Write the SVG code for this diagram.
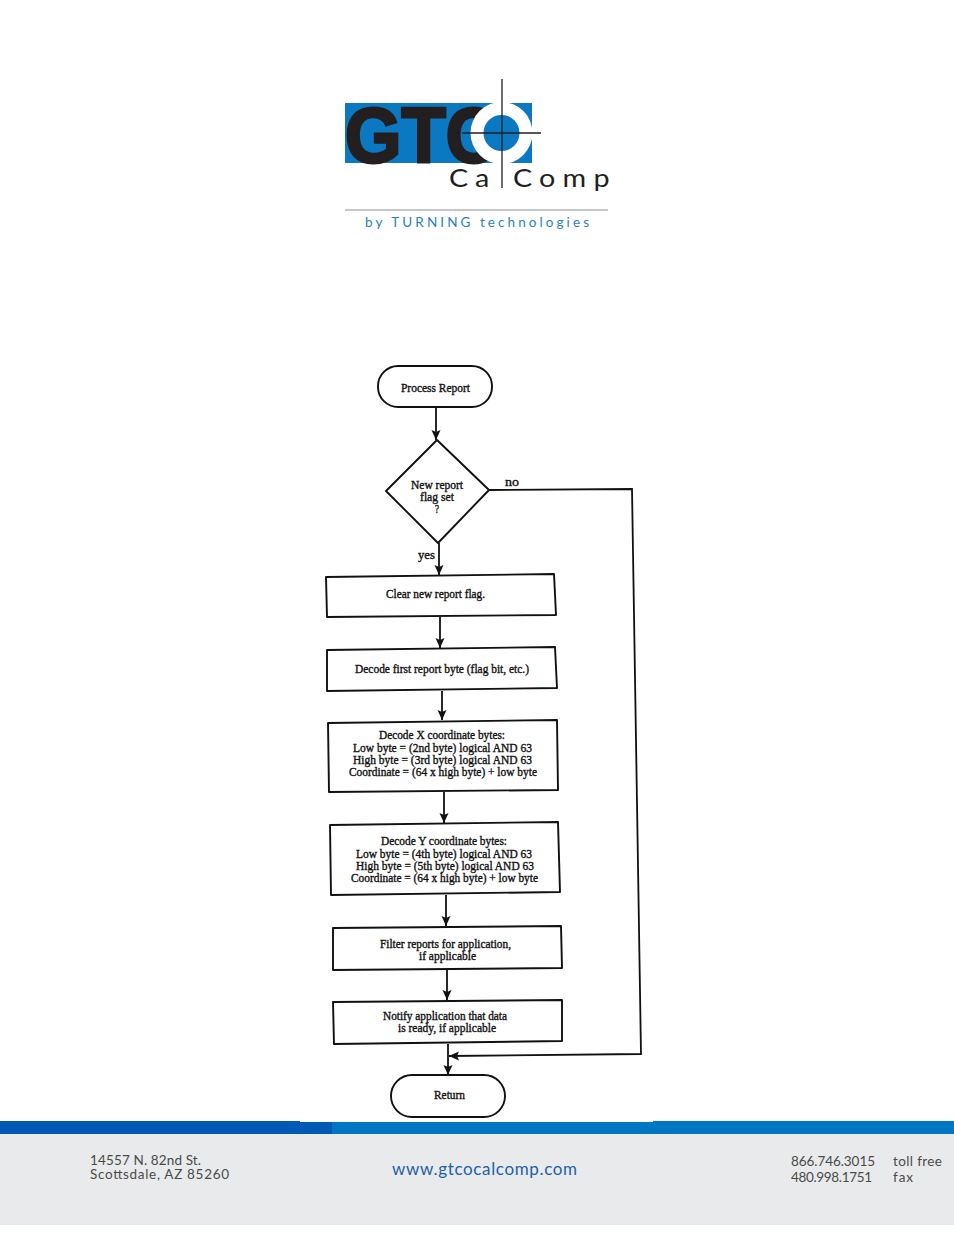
<svg xmlns="http://www.w3.org/2000/svg" width="954" height="1235" viewBox="0 0 954 1235">
<style>
.n{fill:#fff;stroke:#111;stroke-width:1.9;stroke-linejoin:round}
.t{font-family:"Liberation Serif",serif;font-size:11.5px;fill:#111;stroke:#111;stroke-width:.35}
.c{fill:none;stroke:#111;stroke-width:1.8}
.f{font-family:"Lato","Open Sans",sans-serif;font-size:13.5px;fill:#4a4a4a}
</style>
<defs><marker id="a" markerUnits="userSpaceOnUse" markerWidth="12" markerHeight="12" refX="10" refY="6" orient="auto"><path d="M0 1.500L10 6L0 10.500L2 6Z" fill="#111"/></marker></defs>
<rect width="954" height="1235" fill="#fff"/>
<g id="logo">
<rect x="345" y="103" width="187" height="60" fill="#0a79c2"/>
<text x="345" y="161.500" font-family="Liberation Sans,sans-serif" font-weight="700" font-size="78" fill="#231f20" stroke="#231f20" stroke-width="3" textLength="153" lengthAdjust="spacingAndGlyphs">GTC</text>
<circle cx="501.500" cy="133" r="31" fill="#fff"/>
<circle cx="501.500" cy="133" r="18" fill="#0a79c2"/>
<path d="M502 79V188M462 133H541" stroke="#231f20" stroke-width="1.300"/>
<text transform="translate(449 187) scale(1.15 1)" font-family="Lato,sans-serif" font-size="25" fill="#231f20" textLength="35">Ca</text>
<text transform="translate(513 187) scale(1.15 1)" font-family="Lato,sans-serif" font-size="25" fill="#231f20" textLength="84">Comp</text>
<path d="M345 210H608" stroke="#8d9194" stroke-width="1"/>
<text x="365" y="226.500" font-family="Lato,sans-serif" font-size="13.500" fill="#2a7fbd" textLength="224">by TURNING technologies</text>
</g>
<g id="connectors">
<path class="c" marker-end="url(#a)" d="M436 407V440"/>
<path class="c" marker-end="url(#a)" d="M439 543V575"/>
<path class="c" marker-end="url(#a)" d="M440 617V648"/>
<path class="c" marker-end="url(#a)" d="M442 691V720"/>
<path class="c" marker-end="url(#a)" d="M444 792V823"/>
<path class="c" marker-end="url(#a)" d="M446 895V926"/>
<path class="c" marker-end="url(#a)" d="M447 970V1000"/>
<path class="c" marker-end="url(#a)" d="M448 1044V1075"/>
<path class="c" marker-end="url(#a)" d="M489 490L632 489L641 1054L449 1056"/>
<text class="t" x="505" y="486" textLength="14" lengthAdjust="spacingAndGlyphs">no</text>
<text class="t" x="418" y="559" textLength="17" lengthAdjust="spacingAndGlyphs">yes</text>
</g>
<g id="start"><rect class="n" x="378" y="366" width="114" height="41" rx="20" ry="20"/><text class="t" x="401" y="392" textLength="69" lengthAdjust="spacingAndGlyphs">Process Report</text></g>
<g id="decision"><polygon class="n" points="437,440 489,490 438,543 386,491"/>
<text class="t" x="411" y="489" textLength="52" lengthAdjust="spacingAndGlyphs">New report</text>
<text class="t" x="420" y="501" textLength="34" lengthAdjust="spacingAndGlyphs">flag set</text>
<text class="t" x="435" y="513" textLength="4" lengthAdjust="spacingAndGlyphs">?</text></g>
<g id="clear"><polygon class="n" points="326,577 554,574 556,615 327,617"/><text class="t" x="386" y="598" textLength="99" lengthAdjust="spacingAndGlyphs">Clear new report flag.</text></g>
<g id="first"><polygon class="n" points="327,650 555,647 557,688 327,691"/><text class="t" x="355" y="673" textLength="174" lengthAdjust="spacingAndGlyphs">Decode first report byte (flag bit, etc.)</text></g>
<g id="decodex"><polygon class="n" points="328,723 557,720 558,790 329,792"/>
<text class="t" x="379" y="739" textLength="126" lengthAdjust="spacingAndGlyphs">Decode X coordinate bytes:</text>
<text class="t" x="353" y="752" textLength="179" lengthAdjust="spacingAndGlyphs">Low byte = (2nd byte) logical AND 63</text>
<text class="t" x="353" y="764" textLength="179" lengthAdjust="spacingAndGlyphs">High byte = (3rd byte) logical AND 63</text>
<text class="t" x="349" y="776" textLength="188" lengthAdjust="spacingAndGlyphs">Coordinate = (64 x high byte) + low byte</text></g>
<g id="decodey"><polygon class="n" points="330,825 558,822 560,892 331,895"/>
<text class="t" x="381" y="845" textLength="126" lengthAdjust="spacingAndGlyphs">Decode Y coordinate bytes:</text>
<text class="t" x="356" y="858" textLength="176" lengthAdjust="spacingAndGlyphs">Low byte = (4th byte) logical AND 63</text>
<text class="t" x="356" y="870" textLength="178" lengthAdjust="spacingAndGlyphs">High byte = (5th byte) logical AND 63</text>
<text class="t" x="351" y="882" textLength="187" lengthAdjust="spacingAndGlyphs">Coordinate = (64 x high byte) + low byte</text></g>
<g id="filter"><polygon class="n" points="333,928 561,926 562,968 333,970"/>
<text class="t" x="380" y="948" textLength="131" lengthAdjust="spacingAndGlyphs">Filter reports for application,</text>
<text class="t" x="419" y="960" textLength="57" lengthAdjust="spacingAndGlyphs">if applicable</text></g>
<g id="notify"><polygon class="n" points="333,1002 562,1000 562,1041 334,1044"/>
<text class="t" x="383" y="1020" textLength="124" lengthAdjust="spacingAndGlyphs">Notify application that data</text>
<text class="t" x="398" y="1032" textLength="98" lengthAdjust="spacingAndGlyphs">is ready, if applicable</text></g>
<g id="return"><rect class="n" x="391" y="1075" width="114" height="42" rx="21" ry="21"/><text class="t" x="434" y="1099" textLength="31" lengthAdjust="spacingAndGlyphs">Return</text></g>
<g id="footer">
<rect x="0" y="1134" width="954" height="91" fill="#e8eaec"/>
<rect x="0" y="1121" width="332" height="13" fill="#0059b5"/>
<rect x="332" y="1121" width="622" height="13" fill="#0077c2"/>
<rect x="300" y="1121" width="353" height="1" fill="#fff"/>
<text class="f" x="90" y="1165" textLength="111">14557 N. 82nd St.</text>
<text class="f" x="90" y="1179" textLength="139">Scottsdale, AZ 85260</text>
<text x="392" y="1175" font-family="Lato,sans-serif" font-size="17" fill="#1e5fa8" textLength="185">www.gtcocalcomp.com</text>
<text class="f" x="791" y="1166" textLength="84">866.746.3015</text>
<text class="f" x="893" y="1166" textLength="49">toll free</text>
<text class="f" x="791" y="1182" textLength="81">480.998.1751</text>
<text class="f" x="893" y="1182" textLength="20">fax</text>
</g>
</svg>
